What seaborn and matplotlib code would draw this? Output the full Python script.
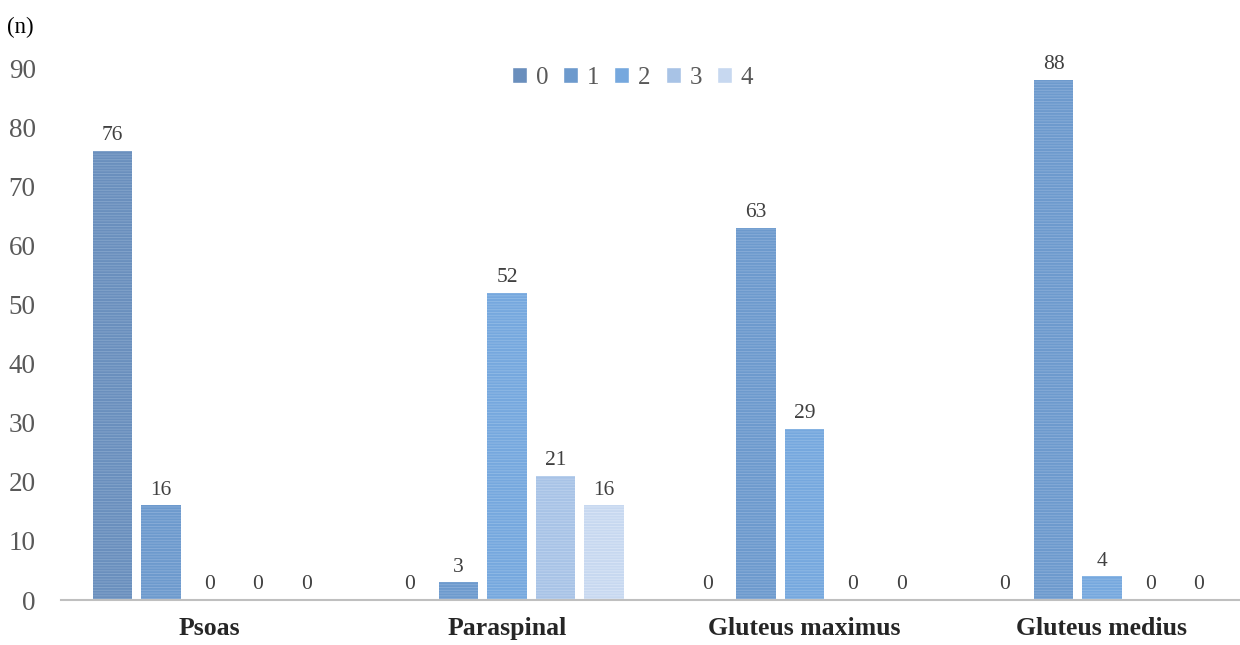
import matplotlib
matplotlib.use("Agg")
import matplotlib.pyplot as plt
import seaborn as sns
import pandas as pd

# Muscle groups and counts per fatty-infiltration grade
muscles = ["Psoas", "Paraspinal", "Gluteus maximus", "Gluteus medius"]
grades = ["0", "1", "2", "3", "4"]
grade0 = [76, 0, 0, 0]
grade1 = [16, 3, 63, 88]
grade2 = [0, 52, 29, 4]
grade3 = [0, 21, 0, 0]
grade4 = [0, 16, 0, 0]
yticks = [0, 10, 20, 30, 40, 50, 60, 70, 80, 90]

fills = ["#6a8fbd", "#6d9acd", "#76a8de", "#a8c3e6", "#c7d8f0"]
stripes = ["#86a6cc", "#8bafd9", "#92bbe6", "#bdd2ee", "#d9e5f6"]

rows = []
for g, vals in zip(grades, [grade0, grade1, grade2, grade3, grade4]):
    for m, v in zip(muscles, vals):
        rows.append({"muscle": m, "grade": g, "n": v})
df = pd.DataFrame(rows)

sns.set_style("white")
plt.rcParams["font.family"] = ["Liberation Serif", "DejaVu Serif"]
plt.rcParams["hatch.linewidth"] = 0.6

fig = plt.figure(figsize=(12.4, 6.45), dpi=100)
ax = fig.add_axes([60.75 / 1240, 45 / 645, 1 - 60.75 / 1240, (600 - 68) / 645])

sns.barplot(data=df, x="muscle", y="n", hue="grade", order=muscles,
            hue_order=grades, palette=fills, saturation=1,
            width=0.815, gap=0.19, ax=ax)

for cont, ec in zip(ax.containers, stripes):
    for bar in cont:
        bar.set_hatch("------")
        bar.set_edgecolor(ec)
        bar.set_linewidth(0)
    ax.bar_label(cont, fmt="%d", padding=4, fontsize=15.5, color="#404040")

ax.set_xlim(-0.5, (1240 - 60.75) / 297.5 - 0.5)
ax.set_ylim(0, 90)
ax.set_yticks(yticks)
ax.tick_params(axis="y", length=0, labelsize=19.5, labelcolor="#595959", pad=18)
ax.tick_params(axis="x", length=0, pad=12)
for lbl in ax.get_xticklabels():
    lbl.set_fontweight("bold")
    lbl.set_fontsize(18.5)
    lbl.set_color("#262626")
ax.set_xlabel("")
ax.set_ylabel("")
for s in ["top", "right", "left"]:
    ax.spines[s].set_visible(False)
ax.spines["bottom"].set_color("#bfbfbf")
ax.spines["bottom"].set_linewidth(1.5)

handles, labels = ax.get_legend_handles_labels()
if ax.get_legend() is not None:
    ax.get_legend().remove()
fig.legend(handles, labels, loc="center", bbox_to_anchor=(0.51, 0.879),
           ncol=5, frameon=False, fontsize=18, handlelength=0.6,
           handleheight=0.6, handletextpad=0.35, columnspacing=0.6,
           labelcolor="#595959")

fig.text(0.006, 0.958, "(n)", fontsize=16.5, color="#000000", va="center")

fig.savefig("out.png", dpi=100)
